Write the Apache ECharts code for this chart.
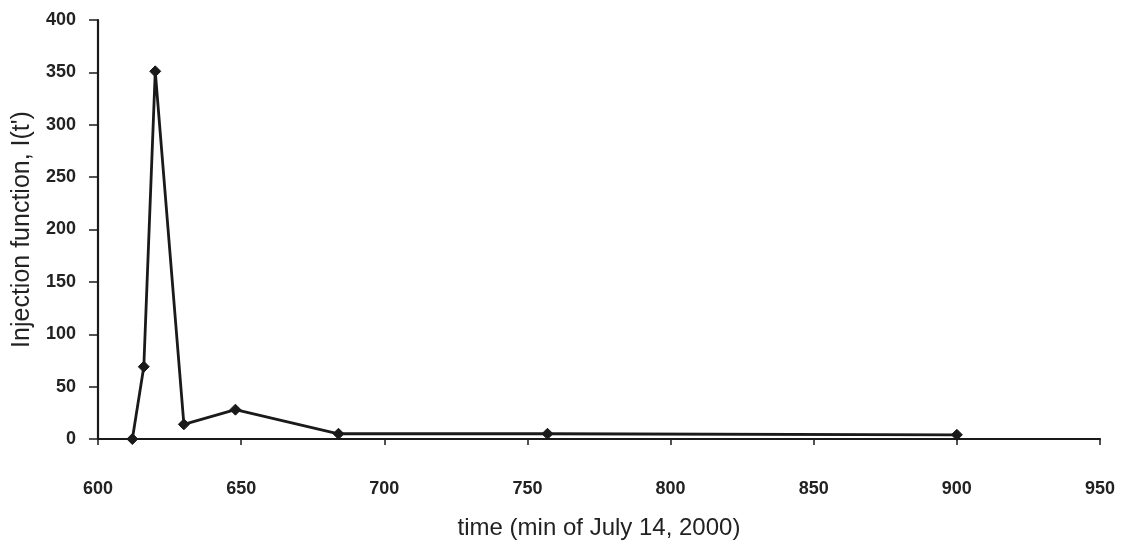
<!DOCTYPE html>
<html>
<head>
<meta charset="utf-8">
<script src="https://cdn.jsdelivr.net/npm/echarts@6/dist/echarts.min.js"></script>
<style>
  html, body { margin: 0; padding: 0; background: #ffffff; }
  #chart { width: 1124px; height: 541px; }
</style>
</head>
<body>
<div id="chart"></div>
<script>
// Injection function I(t') against time (minutes of July 14, 2000)
const times  = [612, 616, 620, 630, 648, 684, 757, 900];
const values = [0, 69, 351, 14, 28, 5, 5, 4];

const xTicks = [600, 650, 700, 750, 800, 850, 900, 950];
const yTicks = [0, 50, 100, 150, 200, 250, 300, 350, 400];

const points = times.map((t, i) => [t, values[i]]);

const ink = '#1a1a1a';
const textInk = '#222222';
const font = 'Liberation Sans, Arial, sans-serif';

const chart = echarts.init(document.getElementById('chart'), null, { renderer: 'canvas' });
chart.setOption({
  backgroundColor: '#ffffff',
  animation: false,
  grid: {
    left: 98, right: 24, top: 20, bottom: 102,
    containLabel: false,
    outerBoundsMode: 'none'
  },
  xAxis: {
    type: 'value',
    min: xTicks[0],
    max: xTicks[xTicks.length - 1],
    interval: 50,
    name: 'time (min of July 14, 2000)',
    nameLocation: 'middle',
    nameGap: 77,
    nameTextStyle: { color: textInk, fontFamily: font, fontSize: 24 },
    axisLine: { show: true, onZero: false, lineStyle: { color: ink, width: 2.2 } },
    axisTick: { show: true, inside: false, length: 6, lineStyle: { color: ink, width: 1.5 } },
    axisLabel: { color: textInk, fontFamily: font, fontSize: 18, fontWeight: 'bold', margin: 41 },
    splitLine: { show: false }
  },
  yAxis: {
    type: 'value',
    min: yTicks[0],
    max: yTicks[yTicks.length - 1],
    interval: 50,
    name: "Injection function, I(t')",
    nameLocation: 'middle',
    nameGap: 59,
    nameTextStyle: { color: textInk, fontFamily: font, fontSize: 25 },
    axisLine: { show: true, lineStyle: { color: ink, width: 2.2 } },
    axisTick: { show: true, inside: false, length: 9, lineStyle: { color: ink, width: 1.5 } },
    axisLabel: { color: textInk, fontFamily: font, fontSize: 18, fontWeight: 'bold', margin: 22 },
    splitLine: { show: false }
  },
  series: [{
    type: 'line',
    data: points,
    symbol: 'diamond',
    symbolSize: 11,
    showAllSymbol: true,
    lineStyle: { color: ink, width: 2.8 },
    itemStyle: { color: ink, borderColor: ink },
    clip: false
  }]
});
</script>
</body>
</html>
